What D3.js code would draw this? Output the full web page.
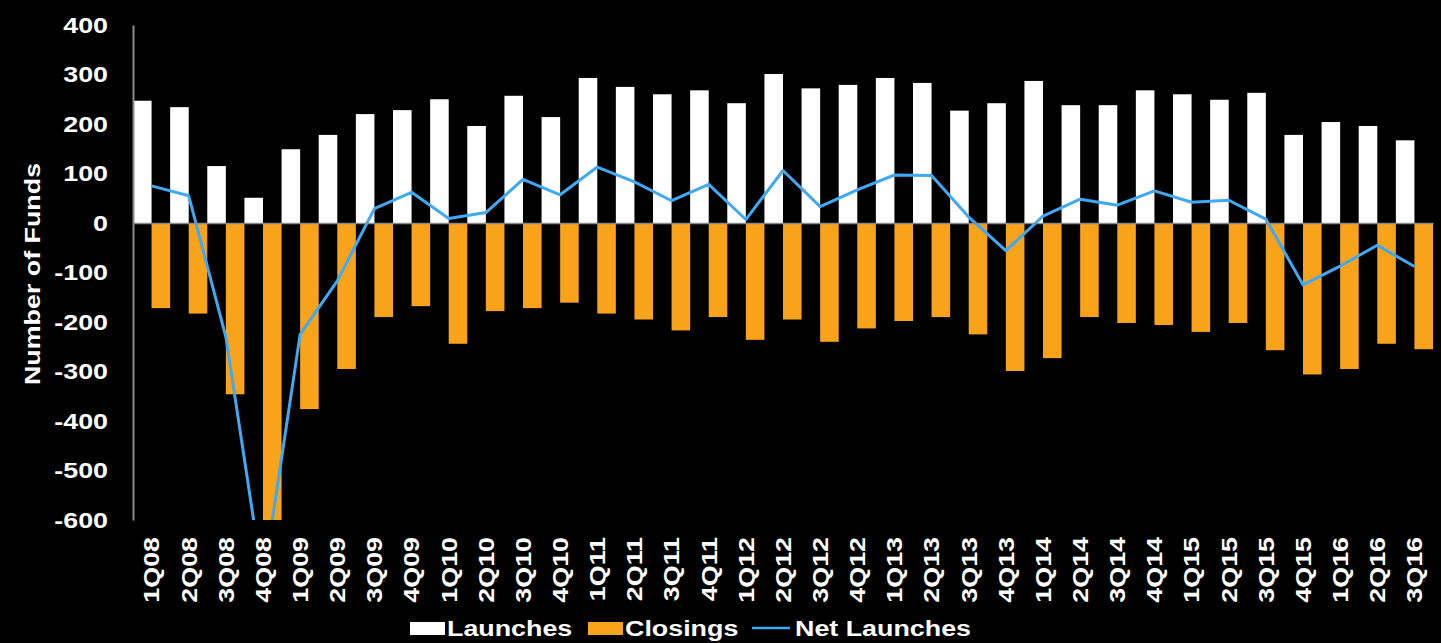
<!DOCTYPE html>
<html lang="en">
<head>
    <meta charset="UTF-8">
    <title>Fund launches and closings</title>
    <style>
        body { margin: 0; background: #000; }
        svg { display: block; }
        text { font-family: "Liberation Sans", Arial, sans-serif; font-weight: bold; fill: #fff; }
    </style>
</head>
<body>
<script src="https://d3js.org/d3.v7.min.js"></script>
<script>
    let quarters = ['1Q08','2Q08','3Q08','4Q08','1Q09','2Q09','3Q09','4Q09','1Q10','2Q10','3Q10','4Q10',
        '1Q11','2Q11','3Q11','4Q11','1Q12','2Q12','3Q12','4Q12','1Q13','2Q13','3Q13','4Q13',
        '1Q14','2Q14','3Q14','4Q14','1Q15','2Q15','3Q15','4Q15','1Q16','2Q16','3Q16'];
    let launches = [247, 234, 115, 51, 149, 178, 220, 228, 250, 196, 257, 214,
        293, 275, 260, 268, 242, 301, 272, 279, 293, 283, 227, 242,
        287, 238, 238, 268, 260, 249, 263, 178, 204, 196, 167];
    let closings = [-172, -183, -346, -775, -376, -295, -190, -168, -244, -178, -172, -161,
        -183, -195, -217, -190, -236, -195, -240, -213, -198, -190, -225, -299,
        -273, -190, -202, -206, -220, -202, -257, -306, -295, -244, -255];
    let netLaunches = [75, 55, -230, -725, -225, -117, 29, 62, 9, 21, 88, 57,
        113, 83, 45, 78, 7, 106, 33, 67, 97, 96, 12, -56,
        14, 48, 36, 65, 42, 46, 8, -125, -87, -45, -88];
    let yTicks = [400, 300, 200, 100, 0, -100, -200, -300, -400, -500, -600];
    let legendItems = ['Launches', 'Closings', 'Net Launches'];

    let width = 1441;
    let height = 643;
    let padding = { top: 25, right: 8, bottom: 123, left: 133 };
    let stretch = 1.22;
    let colors = { launch: '#ffffff', close: '#f9a31b', net: '#3fa9f5', axis: '#8a8a8a' };

    let data = quarters.map((q, i) => ({ q: q, launch: launches[i], close: closings[i], net: netLaunches[i] }));

    let innerW = width - padding.left - padding.right;
    let innerH = height - padding.top - padding.bottom;

    let xScale = d3.scaleBand().domain(quarters).range([0, innerW]).padding(0);
    let yScale = d3.scaleLinear().domain([-600, 400]).range([innerH, 0]);
    let half = xScale.bandwidth() / 2;

    let svg = d3.select('body').append('svg')
        .attr('width', width)
        .attr('height', height)
        .style('background', '#000');

    // widen text along its reading direction, like the original rendering
    let widen = sel => sel.each(function () {
        let len = this.getComputedTextLength();
        d3.select(this).attr('textLength', len * stretch).attr('lengthAdjust', 'spacingAndGlyphs');
    });

    svg.append('clipPath').attr('id', 'plot-clip')
        .append('rect').attr('width', innerW).attr('height', innerH);

    let g = svg.append('g').attr('transform', 'translate(' + padding.left + ',' + padding.top + ')');
    let plot = g.append('g').attr('clip-path', 'url(#plot-clip)');

    plot.selectAll('rect.launch').data(data).enter().append('rect')
        .attr('class', 'launch')
        .attr('x', d => xScale(d.q))
        .attr('width', half)
        .attr('y', d => yScale(d.launch))
        .attr('height', d => yScale(0) - yScale(d.launch))
        .attr('fill', colors.launch);

    plot.selectAll('rect.close').data(data).enter().append('rect')
        .attr('class', 'close')
        .attr('x', d => xScale(d.q) + half)
        .attr('width', half)
        .attr('y', yScale(0))
        .attr('height', d => yScale(d.close) - yScale(0))
        .attr('fill', colors.close);

    // zero line
    let zeroAxis = g.append('g')
        .attr('transform', 'translate(0,' + yScale(0) + ')')
        .call(d3.axisBottom(xScale).tickSize(0).tickFormat(''));
    zeroAxis.select('.domain').attr('stroke', colors.axis).attr('stroke-width', 1.5);

    let line = d3.line()
        .x(d => xScale(d.q) + half)
        .y(d => yScale(d.net));
    plot.append('path').datum(data)
        .attr('d', line)
        .attr('fill', 'none')
        .attr('stroke', colors.net)
        .attr('stroke-width', 3)
        .attr('stroke-linejoin', 'round');

    // y axis (plain hyphen for negatives)
    let yAxis = g.append('g')
        .call(d3.axisLeft(yScale).tickValues(yTicks).tickFormat(d => String(d))
            .tickSize(0).tickSizeOuter(0).tickPadding(25));
    yAxis.select('.domain').attr('stroke', colors.axis).attr('stroke-width', 2);
    yAxis.selectAll('text')
        .attr('fill', '#fff')
        .style('font-size', '22px')
        .style('font-family', '"Liberation Sans", Arial, sans-serif')
        .style('font-weight', 'bold')
        .call(widen);

    // x labels
    let xAxis = g.append('g')
        .attr('transform', 'translate(0,' + (innerH + 17) + ')')
        .call(d3.axisBottom(xScale).tickSize(0).tickPadding(0));
    xAxis.select('.domain').remove();
    xAxis.selectAll('text')
        .attr('fill', '#fff')
        .attr('text-anchor', 'end')
        .attr('transform', 'rotate(-90)')
        .attr('x', 0)
        .attr('y', 0)
        .attr('dy', '0.36em')
        .style('font-size', '22px')
        .style('font-family', '"Liberation Sans", Arial, sans-serif')
        .style('font-weight', 'bold')
        .call(widen);

    // y title
    svg.append('text')
        .attr('transform', 'translate(40,' + 274 + ') rotate(-90)')
        .attr('text-anchor', 'middle')
        .style('font-size', '22px')
        .text('Number of Funds')
        .call(widen);

    // legend
    let legend = svg.append('g').attr('transform', 'translate(410,628)');
    let legendX = [0, 178, 342];
    legendItems.forEach((name, i) => {
        let item = legend.append('g').attr('transform', 'translate(' + legendX[i] + ',0)');
        if (i < 2) {
            item.append('rect')
                .attr('x', 0).attr('y', -6)
                .attr('width', 35).attr('height', 13)
                .attr('fill', i === 0 ? colors.launch : colors.close);
        } else {
            item.append('line')
                .attr('x1', 0).attr('x2', 38)
                .attr('y1', 0).attr('y2', 0)
                .attr('stroke', colors.net).attr('stroke-width', 2.5);
        }
        item.append('text')
            .attr('x', i < 2 ? 37 : 43)
            .attr('y', 8)
            .style('font-size', '22px')
            .text(name)
            .call(widen);
    });
</script>
</body>
</html>
